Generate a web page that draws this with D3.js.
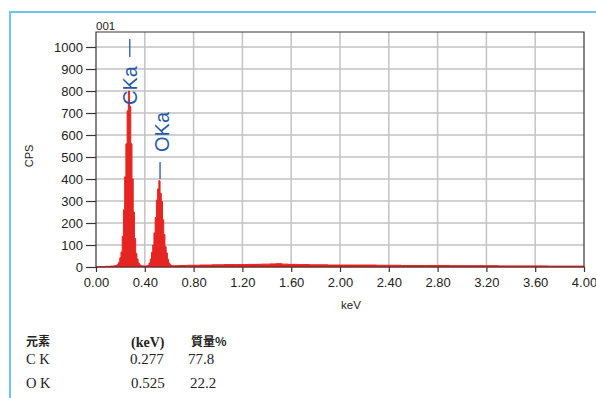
<!DOCTYPE html>
<html>
<head>
<meta charset="utf-8">
<script src="https://cdn.jsdelivr.net/npm/d3@7"></script>
<style>
  html, body { margin: 0; padding: 0; background: #ffffff; }
  svg { display: block; }
</style>
</head>
<body>
<svg id="chart" width="596" height="398"></svg>
<script>
// ---- data ----
const spectrumKeV = [0.00, 0.05, 0.10, 0.13, 0.15,
  0.16, 0.17, 0.18, 0.19, 0.20, 0.21, 0.22, 0.23, 0.24, 0.25,
  0.26, 0.27, 0.28, 0.29, 0.30, 0.31, 0.32, 0.33, 0.34, 0.35,
  0.36, 0.37, 0.38, 0.39, 0.40, 0.41, 0.42, 0.43, 0.44, 0.45,
  0.46, 0.47, 0.48, 0.49, 0.50, 0.51, 0.52, 0.53, 0.54, 0.55,
  0.56, 0.57, 0.58, 0.59, 0.60, 0.61, 0.62, 0.63,
  0.66, 0.70, 0.80, 0.90, 1.00, 1.10, 1.20, 1.30, 1.40, 1.45, 1.50, 1.55, 1.60,
  1.70, 1.80, 2.00, 2.20, 2.40, 2.60, 2.80, 3.00, 3.20, 3.40, 3.60, 3.80, 4.00];
const spectrumCps = [0, 1, 3, 4, 5,
  6, 8, 12, 22, 42, 68, 140, 260, 410, 560,
  710, 800, 730, 560, 400, 250, 130, 62, 36, 18,
  10, 7, 5, 5, 4, 5, 6, 8, 18, 36,
  66, 100, 155, 225, 305, 355, 392, 335, 298, 215,
  148, 92, 64, 35, 18, 10, 7, 6,
  6, 7, 8, 9, 10, 11, 11, 12, 13, 14, 15, 13, 12,
  11, 10, 9, 9, 8, 7, 7, 6, 6, 5, 5, 4, 4];
const xTicks = [0, 0.4, 0.8, 1.2, 1.6, 2.0, 2.4, 2.8, 3.2, 3.6, 4.0];
const yTicks = [0, 100, 200, 300, 400, 500, 600, 700, 800, 900, 1000];
const lineLabels = ["CKa", "OKa"];
const lineEnergies = [0.277, 0.525];
const tableHeader = ["元素", "(keV)", "質量%"];
const tableElements = ["C K", "O K"];
const tableEnergies = ["0.277", "0.525"];
const tableMass = ["77.8", "22.2"];

// ---- layout ----
const svg = d3.select("#chart");
const pLeft = 96, pRight = 584, pTop = 32, pBottom = 267;
const x = d3.scaleLinear().domain([0, 4]).range([pLeft, pRight]);
const y = d3.scaleLinear().domain([0, 1000]).range([pBottom, 47]);

// outer blue frame
svg.append("path")
  .attr("d", `M10,398 L10,12 L596,12`)
  .attr("fill", "none").attr("stroke", "#6cc5ec").attr("stroke-width", 2);

// grid
const g = svg.append("g");
g.selectAll(".hgrid").data(yTicks.filter(d => d > 0)).join("line")
  .attr("x1", pLeft).attr("x2", pRight)
  .attr("y1", d => y(d)).attr("y2", d => y(d))
  .attr("stroke", "#a3a3a3").attr("stroke-width", 1.2);
g.selectAll(".vgrid").data(xTicks.filter(d => d > 0 && d < 4)).join("line")
  .attr("x1", d => x(d)).attr("x2", d => x(d))
  .attr("y1", pTop).attr("y2", pBottom)
  .attr("stroke", "#c4c4c4").attr("stroke-width", 1.5);

// spectrum
const pts = spectrumKeV.map((k, i) => [k, spectrumCps[i]]);
const area = d3.area().curve(d3.curveStep)
  .x(d => x(d[0])).y0(y(0)).y1(d => y(d[1]));
svg.append("path").datum(pts).attr("d", area)
  .attr("fill", "#e52521").attr("stroke", "#e52521").attr("stroke-width", 1);

// frame
svg.append("path")
  .attr("d", `M${pLeft},${pBottom} L${pLeft},${pTop} L${pRight},${pTop} L${pRight},${pBottom} Z`)
  .attr("fill", "none").attr("stroke", "#3a3434").attr("stroke-width", 1.2);

// axes
const yAxis = d3.axisLeft(y).tickValues(yTicks).tickFormat(d3.format("d")).tickSize(10).tickPadding(3);
const ya = svg.append("g").attr("transform", `translate(${pLeft},0)`).call(yAxis);
ya.select(".domain").remove();
ya.selectAll("line").attr("stroke", "#3a3434").attr("stroke-width", 1.2);
ya.selectAll("text").attr("fill", "#222").style("font-family", "Liberation Sans, Arial, sans-serif").style("font-size", "13px");

const xAxis = d3.axisBottom(x).tickValues(xTicks).tickFormat(d3.format(".2f")).tickSize(5).tickPadding(6);
const xa = svg.append("g").attr("transform", `translate(0,${pBottom})`).call(xAxis);
xa.select(".domain").remove();
xa.selectAll("line").attr("stroke", "#3a3434").attr("stroke-width", 1.2);
xa.selectAll("text").attr("fill", "#222").style("font-family", "Liberation Sans, Arial, sans-serif").style("font-size", "13px");

// titles
svg.append("text").attr("x", pLeft).attr("y", 30).text("001")
  .attr("fill", "#222").style("font-family", "Liberation Sans, Arial, sans-serif").style("font-size", "11.5px");
svg.append("text").attr("transform", "translate(33,156) rotate(-90)").attr("text-anchor", "middle").text("CPS")
  .attr("fill", "#222").style("font-family", "Liberation Sans, Arial, sans-serif").style("font-size", "11px");
svg.append("text").attr("x", 351).attr("y", 309).attr("text-anchor", "middle").text("keV")
  .attr("fill", "#222").style("font-family", "Liberation Sans, Arial, sans-serif").style("font-size", "11.5px");

// line markers
const blue = "#2758a8";
const markerTop = [39, 162], markerBot = [57, 179];
const textStart = [105, 152], textOffset = [7.5, 8.5];
lineLabels.forEach((lab, i) => {
  const ex = x(lineEnergies[i]);
  svg.append("line").attr("x1", ex).attr("x2", ex)
    .attr("y1", markerTop[i]).attr("y2", markerBot[i])
    .attr("stroke", blue).attr("stroke-width", 1.3);
  svg.append("text")
    .attr("transform", `translate(${ex + textOffset[i]},${textStart[i]}) rotate(-90)`)
    .text(lab).attr("fill", blue)
    .style("font-family", "Liberation Sans, Arial, sans-serif").style("font-size", "20px");
});

// table
const serif = "Liberation Serif, Times New Roman, serif";
const cjk = "Noto Sans CJK JP, sans-serif";
const colX = [26, 131, 191];
const headY = 346;
svg.append("text").attr("x", colX[0]).attr("y", headY).text(tableHeader[0])
  .style("font-family", cjk).style("font-size", "12px").style("font-weight", "bold").attr("fill", "#222");
svg.append("text").attr("x", colX[1]).attr("y", headY + 1).text(tableHeader[1])
  .style("font-family", serif).style("font-size", "14px").style("font-weight", "bold").attr("fill", "#222");
svg.append("text").attr("x", colX[2]).attr("y", headY).text(tableHeader[2])
  .style("font-family", cjk).style("font-size", "12px").style("font-weight", "bold").attr("fill", "#222");
const rowY = [364, 388];
tableElements.forEach((el, i) => {
  svg.append("text").attr("x", colX[0]).attr("y", rowY[i]).text(el)
    .style("font-family", serif).style("font-size", "14.5px").attr("fill", "#222");
  svg.append("text").attr("x", colX[1] - 1 + (i ? 1 : 0)).attr("y", rowY[i]).text(tableEnergies[i])
    .style("font-family", serif).style("font-size", "15px").attr("fill", "#222");
  svg.append("text").attr("x", colX[2] - 3 + (i ? 2 : 0)).attr("y", rowY[i]).text(tableMass[i])
    .style("font-family", serif).style("font-size", "15px").attr("fill", "#222");
});
</script>
</body>
</html>
